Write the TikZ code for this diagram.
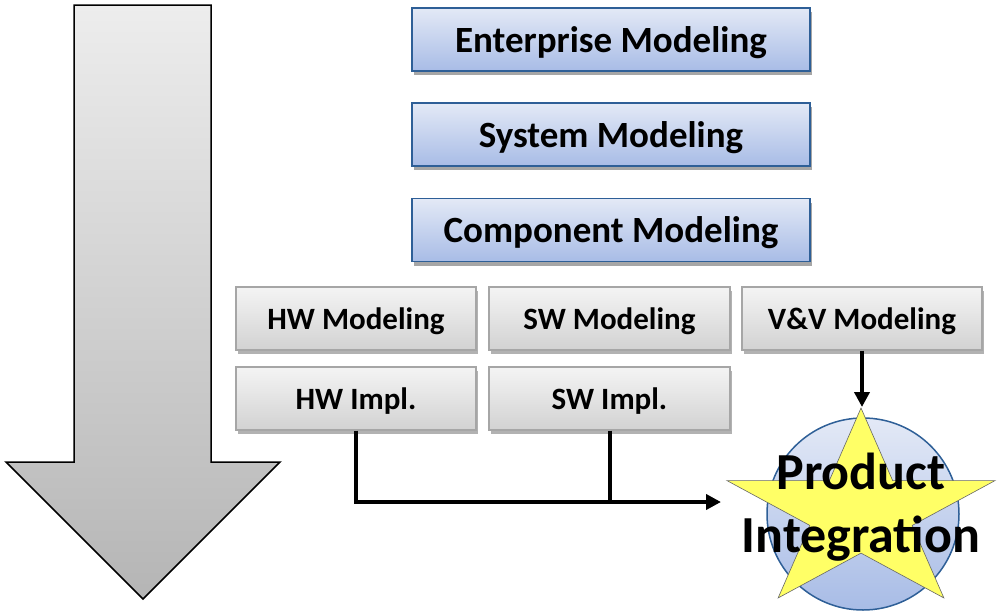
\documentclass[tikz,border=0pt]{standalone}
\usepackage{fontspec}
\setmainfont{Carlito}
\usetikzlibrary{shadows,arrows.meta,calc}
\definecolor{bluetop}{HTML}{E3E9F6}
\definecolor{bluebot}{HTML}{A8BCE6}
\definecolor{blueline}{HTML}{2E5F97}
\definecolor{graytop}{HTML}{F4F4F4}
\definecolor{graybot}{HTML}{D2D2D2}
\definecolor{grayline}{HTML}{A6A6A6}
\definecolor{arrtop}{HTML}{EDEDED}
\definecolor{arrbot}{HTML}{B5B5B5}
\definecolor{staryellow}{HTML}{FFFF66}
\tikzset{
  bluebox/.style={draw=blueline, line width=1.5pt, top color=bluetop, bottom color=bluebot,
    minimum width=398pt, minimum height=63pt, inner sep=0pt, text depth=0pt,
    font=\fontsize{37}{40}\selectfont\bfseries,
    drop shadow={shadow xshift=2pt, shadow yshift=-4pt, opacity=0.35, fill=black}},
  graybox/.style={draw=grayline, line width=1.2pt, top color=graytop, bottom color=graybot,
    minimum width=240pt, minimum height=63pt, inner sep=0pt, text depth=0pt,
    font=\fontsize{31}{34}\selectfont\bfseries,
    drop shadow={shadow xshift=2pt, shadow yshift=-4pt, opacity=0.3, fill=black}},
  conn/.style={line width=4pt, -{Triangle[length=15pt,width=15pt]}},
  plain/.style={line width=4pt}
}
\begin{document}
\begin{tikzpicture}[x=1pt,y=-1pt]
\useasboundingbox (0,0) rectangle (999,613);
% big arrow
\path[draw=black, line width=1.5pt, top color=arrtop, bottom color=arrbot]
  (74,5) -- (211,5) -- (211,462) -- (280,462) -- (143,599) -- (6,462) -- (74,462) -- cycle;
% blue boxes
\node[bluebox] (ent) at (611,39.5) {Enterprise Modeling};
\node[bluebox] (sys) at (611,134.5) {System Modeling};
\node[bluebox] (comp) at (611,230) {Component Modeling};
% gray boxes
\node[graybox] (hwm) at (356,318.5) {HW Modeling};
\node[graybox, minimum width=241pt] (swm) at (609.5,318.5) {SW Modeling};
\node[graybox] (vvm) at (862,318.5) {V\&V Modeling};
\node[graybox] (hwi) at (356,398.5) {HW Impl.};
\node[graybox, minimum width=241pt] (swi) at (609.5,398.5) {SW Impl.};
% circle
\node[circle, draw=blueline, line width=1.5pt, top color=bluetop, bottom color=bluebot,
  minimum size=192pt, inner sep=0pt] (circ) at (863,514) {};
% star
\begin{scope}[shift={(861,513)}, x=141pt, y=105pt]
\fill[staryellow, draw=black!60, line width=0.6pt]
  (90:1) -- (126:0.382) -- (162:1) -- (198:0.382) -- (234:1) -- (270:0.382)
  -- (306:1) -- (342:0.382) -- (18:1) -- (54:0.382) -- cycle;
\end{scope}
\node[align=center, font=\fontsize{52}{63}\selectfont\bfseries, inner sep=0pt] (prod) at (861,507) {Product\\Integration};
% connectors
\coordinate (startop) at (862,407);
\coordinate (pin) at (721,502);
\draw[conn] (vvm.south) -- (startop);
\draw[conn] (hwi.south) |- (pin);
\draw[plain] (swi.south) -- (swi.south |- pin);
\end{tikzpicture}
\end{document}
